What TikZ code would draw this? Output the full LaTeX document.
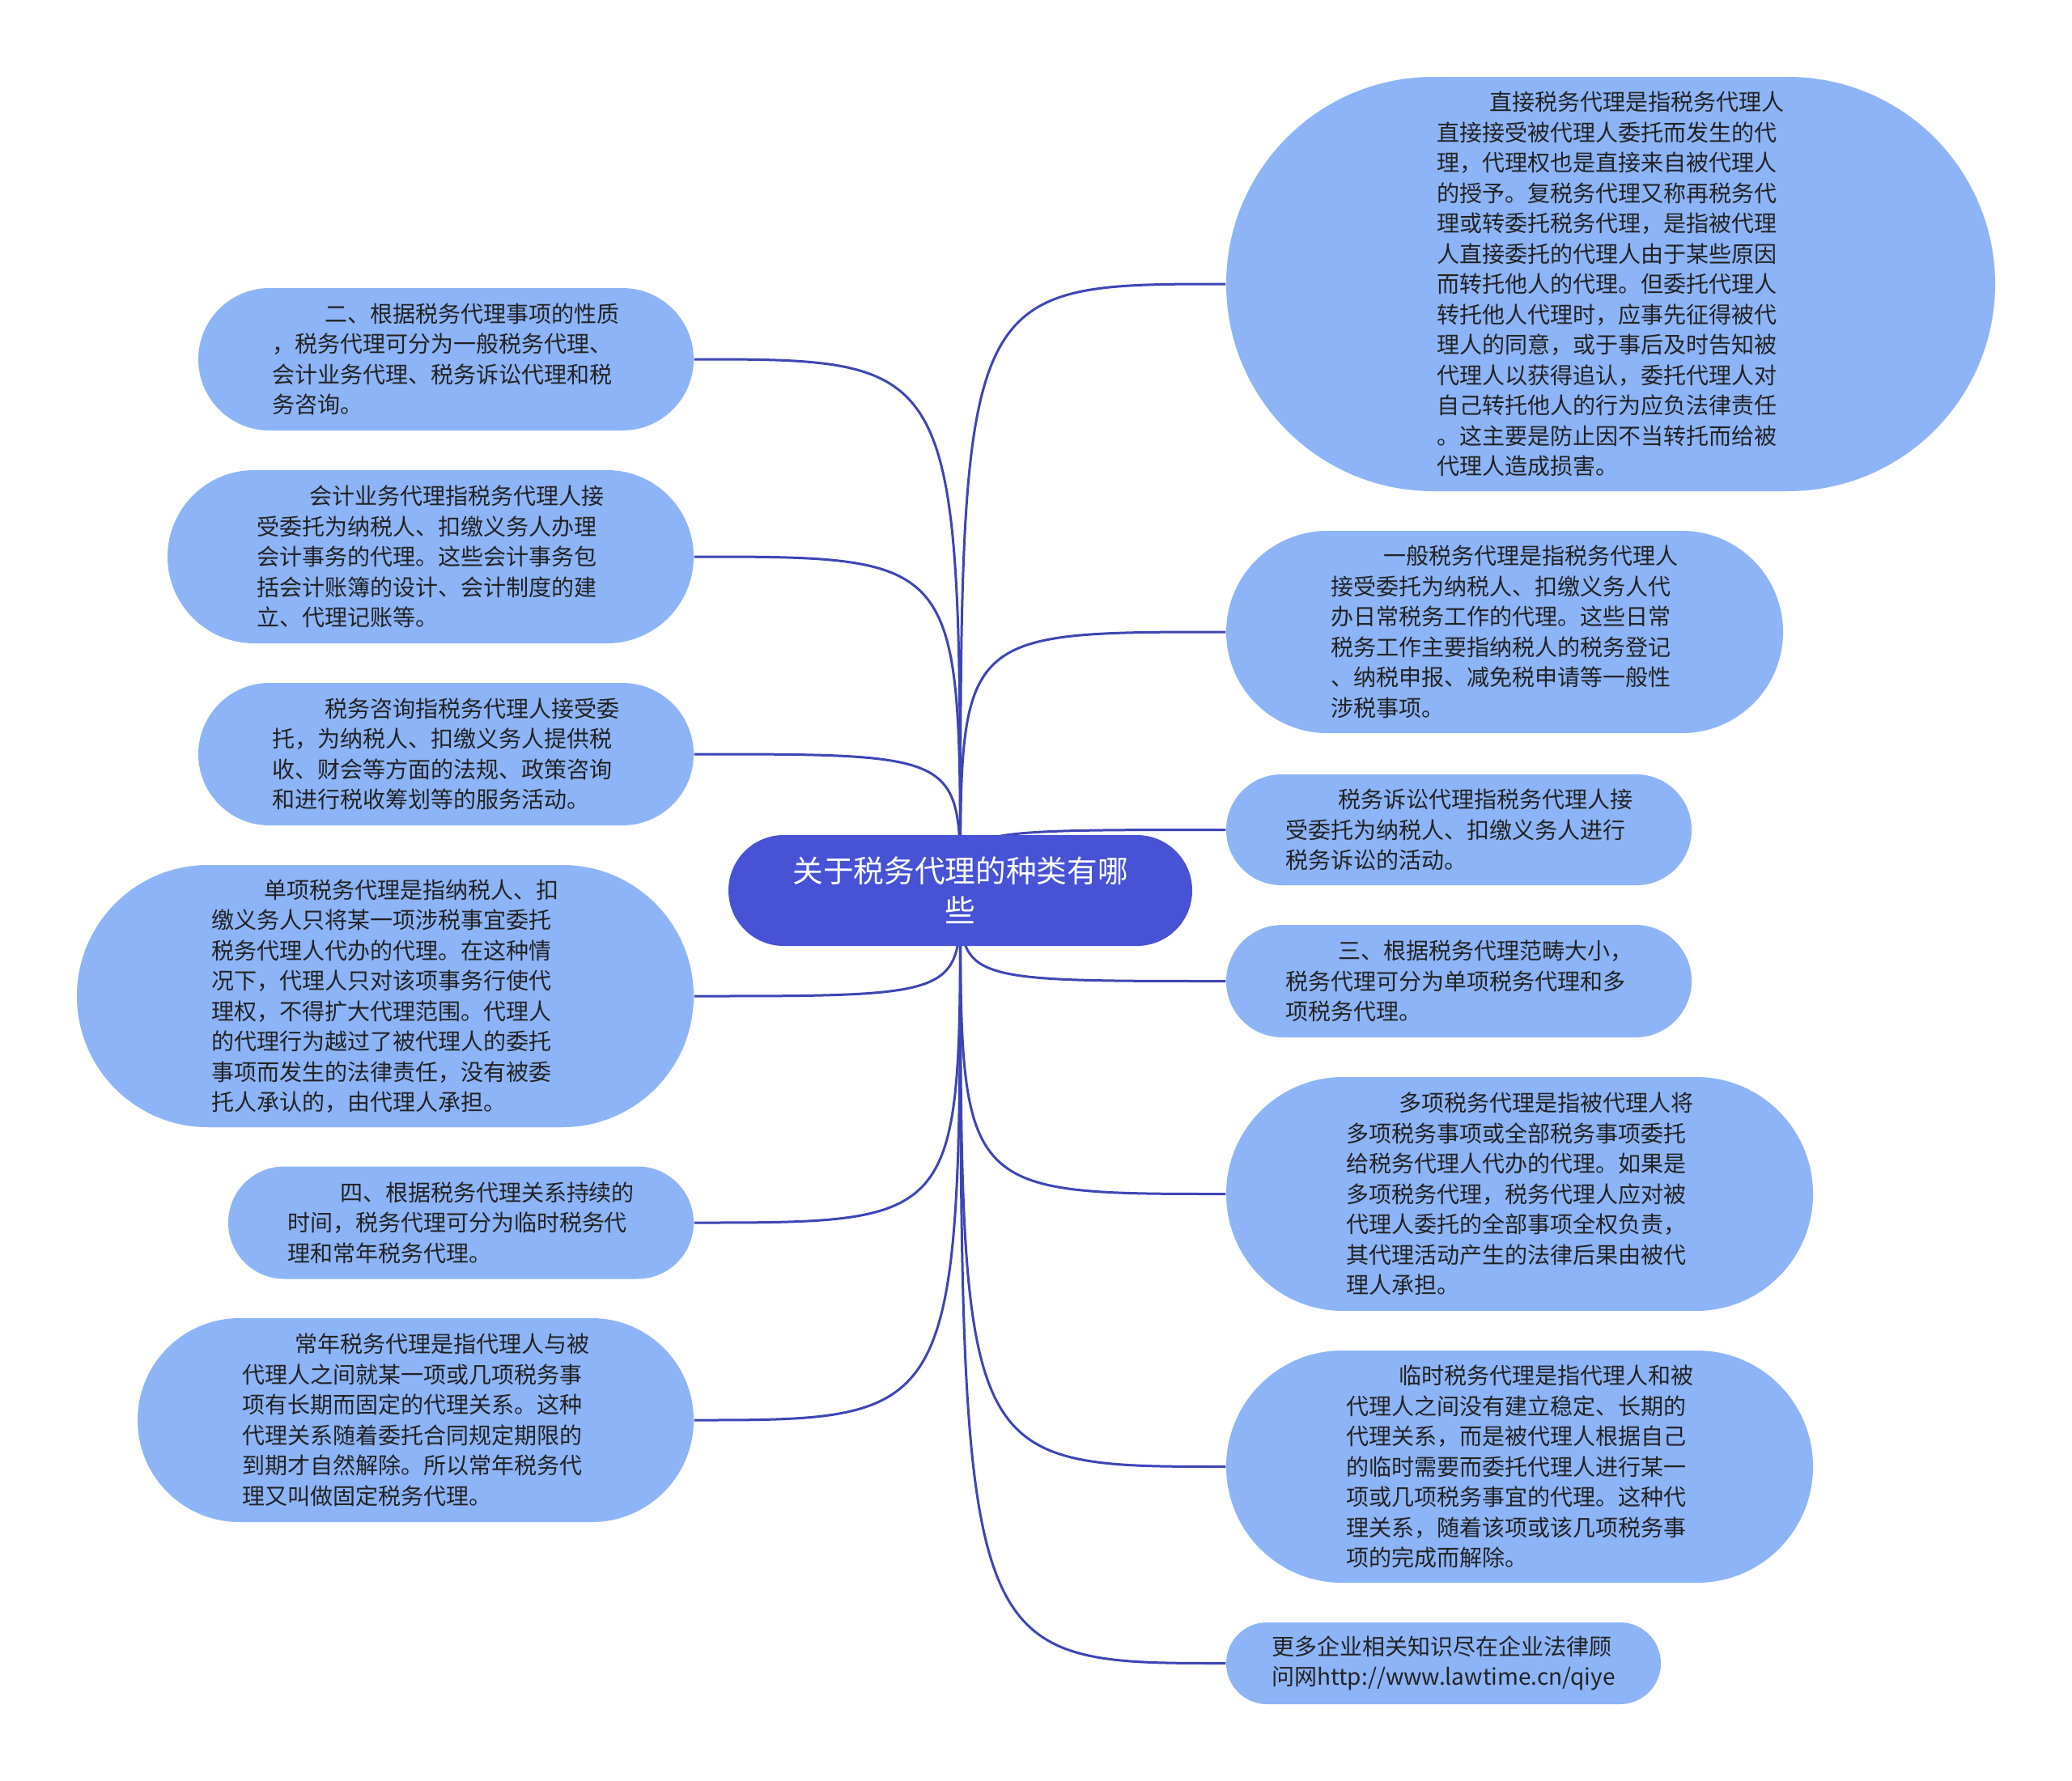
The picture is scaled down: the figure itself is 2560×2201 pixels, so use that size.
\documentclass[tikz,border=0pt]{standalone}
\usepackage{fontspec}
\newfontfamily\cjk{Noto Sans CJK SC}
\usetikzlibrary{backgrounds}
\definecolor{boxfill}{RGB}{141,180,247}
\definecolor{hubfill}{RGB}{71,82,213}
\definecolor{edgecol}{RGB}{61,69,181}
\definecolor{txt}{RGB}{34,34,34}
\newcommand\myindent{\hspace*{19.5pt}}
\tikzset{
 leaf/.style n args={3}{fill=boxfill, align=left, inner sep=0pt, text=txt,
   font=\cjk\fontsize{8.4pt}{11.25pt}\selectfont,
   minimum width=#1, minimum height=#2, rounded corners=#3},
 hub/.style={fill=hubfill, align=center, inner sep=0pt, text=white,
   font=\cjk\fontsize{11.3pt}{14.7pt}\selectfont,
   minimum width=171.9pt, minimum height=41.1pt, rounded corners=20.5pt},
 link/.style={draw=edgecol, line width=0.9pt},
}
\begin{document}
\begin{tikzpicture}[x=0.3pt,y=-0.3pt]
\useasboundingbox (0,0) rectangle (2560,2201);

\node[hub] (C) at (1186.5,1100.5) {关于税务代理的种类有哪\\些};

% left
\node[leaf={183.6pt}{52.8pt}{26.4pt}] (L1) at (551,444) {\myindent 二、根据税务代理事项的性质\\，税务代理可分为一般税务代理、\\会计业务代理、税务诉讼代理和税\\务咨询。};
\node[leaf={195pt}{64.2pt}{32.1pt}] (L2) at (532,688) {\myindent 会计业务代理指税务代理人接\\受委托为纳税人、扣缴义务人办理\\会计事务的代理。这些会计事务包\\括会计账簿的设计、会计制度的建\\立、代理记账等。};
\node[leaf={183.6pt}{52.8pt}{26.4pt}] (L3) at (551,932) {\myindent 税务咨询指税务代理人接受委\\托，为纳税人、扣缴义务人提供税\\收、财会等方面的法规、政策咨询\\和进行税收筹划等的服务活动。};
\node[leaf={228.6pt}{97.2pt}{48.6pt}] (L4) at (476,1231) {\myindent 单项税务代理是指纳税人、扣\\缴义务人只将某一项涉税事宜委托\\税务代理人代办的代理。在这种情\\况下，代理人只对该项事务行使代\\理权，不得扩大代理范围。代理人\\的代理行为越过了被代理人的委托\\事项而发生的法律责任，没有被委\\托人承认的，由代理人承担。};
\node[leaf={172.5pt}{41.7pt}{20.8pt}] (L5) at (569.5,1511) {\myindent 四、根据税务代理关系持续的\\时间，税务代理可分为临时税务代\\理和常年税务代理。};
\node[leaf={206.1pt}{75.6pt}{37.8pt}] (L6) at (513.5,1755) {\myindent 常年税务代理是指代理人与被\\代理人之间就某一项或几项税务事\\项有长期而固定的代理关系。这种\\代理关系随着委托合同规定期限的\\到期才自然解除。所以常年税务代\\理又叫做固定税务代理。};

% right
\node[leaf={285pt}{153.6pt}{76.8pt}] (R1) at (1990,351) {\myindent 直接税务代理是指税务代理人\\直接接受被代理人委托而发生的代\\理，代理权也是直接来自被代理人\\的授予。复税务代理又称再税务代\\理或转委托税务代理，是指被代理\\人直接委托的代理人由于某些原因\\而转托他人的代理。但委托代理人\\转托他人代理时，应事先征得被代\\理人的同意，或于事后及时告知被\\代理人以获得追认，委托代理人对\\自己转托他人的行为应负法律责任\\。这主要是防止因不当转托而给被\\代理人造成损害。};
\node[leaf={206.4pt}{75pt}{37.5pt}] (R2) at (1859,781) {\myindent 一般税务代理是指税务代理人\\接受委托为纳税人、扣缴义务人代\\办日常税务工作的代理。这些日常\\税务工作主要指纳税人的税务登记\\、纳税申报、减免税申请等一般性\\涉税事项。};
\node[leaf={172.5pt}{41.1pt}{20.5pt}] (R3) at (1802.5,1025.5) {\myindent 税务诉讼代理指税务代理人接\\受委托为纳税人、扣缴义务人进行\\税务诉讼的活动。};
\node[leaf={172.5pt}{41.7pt}{20.8pt}] (R4) at (1802.5,1212.5) {\myindent 三、根据税务代理范畴大小，\\税务代理可分为单项税务代理和多\\项税务代理。};
\node[leaf={217.5pt}{86.7pt}{43.3pt}] (R5) at (1877.5,1475.5) {\myindent 多项税务代理是指被代理人将\\多项税务事项或全部税务事项委托\\给税务代理人代办的代理。如果是\\多项税务代理，税务代理人应对被\\代理人委托的全部事项全权负责，\\其代理活动产生的法律后果由被代\\理人承担。};
\node[leaf={217.5pt}{86.1pt}{43pt}] (R6) at (1877.5,1812.5) {\myindent 临时税务代理是指代理人和被\\代理人之间没有建立稳定、长期的\\代理关系，而是被代理人根据自己\\的临时需要而委托代理人进行某一\\项或几项税务事宜的代理。这种代\\理关系，随着该项或该几项税务事\\项的完成而解除。};
\node[leaf={161.1pt}{30.3pt}{15.1pt}] (R7) at (1783.5,2055.5) {更多企业相关知识尽在企业法律顾\\问网http://www.lawtime.cn/qiye};

\begin{scope}[on background layer]
\fill[white] (0,0) rectangle (2560,2201);
\foreach \t in {L1,L2,L3,L4,L5,L6}
  \draw[link] (C.center) .. controls (C.center |- \t.east) .. (\t.east);
\foreach \t in {R1,R2,R3,R4,R5,R6,R7}
  \draw[link] (C.center) .. controls (C.center |- \t.west) .. (\t.west);
\end{scope}
\end{tikzpicture}
\end{document}
